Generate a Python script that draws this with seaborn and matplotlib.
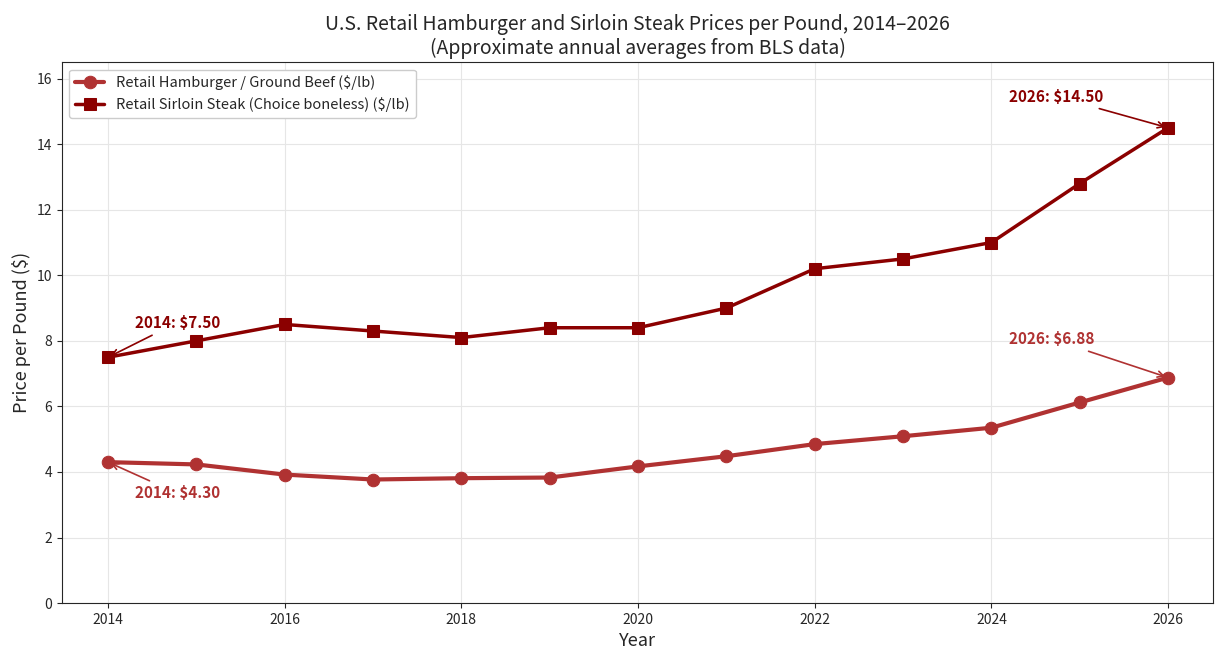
import numpy as np
import pandas as pd
import seaborn as sns
import matplotlib.pyplot as plt

years = list(range(2014, 2027))
hamburger = [4.30, 4.23, 3.92, 3.77, 3.81, 3.83, 4.17, 4.48, 4.85, 5.09, 5.35, 6.12, 6.88]
sirloin = [7.50, 8.00, 8.50, 8.30, 8.10, 8.40, 8.40, 9.00, 10.20, 10.50, 11.00, 12.80, 14.50]

sns.set_style("ticks")
plt.rcParams['font.family'] = ['Noto Sans CJK JP', 'DejaVu Sans']

df = pd.DataFrame({'Year': years, 'Hamburger': hamburger, 'Sirloin': sirloin})

fig, ax = plt.subplots(figsize=(12.18, 6.62), dpi=100)
c_ham = '#b03232'
c_sir = '#8b0000'
sns.lineplot(data=df, x='Year', y='Hamburger', ax=ax, color=c_ham, marker='o', markersize=9,
             linewidth=3, markeredgecolor=c_ham, label='Retail Hamburger / Ground Beef ($/lb)')
sns.lineplot(data=df, x='Year', y='Sirloin', ax=ax, color=c_sir, marker='s', markersize=8,
             linewidth=2.5, markeredgecolor=c_sir, label='Retail Sirloin Steak (Choice boneless) ($/lb)')

ax.set_xlim(2013.48, 2026.51)
ax.set_ylim(0, 16.5)
ax.set_xticks(range(2014, 2027, 2))
ax.set_yticks(range(0, 17, 2))
ax.grid(True, color='#e6e6e6', linewidth=0.8)
ax.set_xlabel('Year', fontsize=13)
ax.set_ylabel('Price per Pound ($)', fontsize=13)
ax.set_title('U.S. Retail Hamburger and Sirloin Steak Prices per Pound, 2014\u20132026\n'
             '(Approximate annual averages from BLS data)', fontsize=14)
ax.tick_params(labelsize=10)
ax.legend(loc='upper left', fontsize=10.5, framealpha=1, edgecolor='#cccccc')

arrow = dict(arrowstyle='->', lw=1.2)
ax.annotate(f'2014: ${sirloin[0]:.2f}', xy=(years[0], sirloin[0]), xytext=(2014.3, 8.4),
            color=c_sir, fontsize=11, fontweight='bold', arrowprops=dict(arrow, color=c_sir))
ax.annotate(f'2014: ${hamburger[0]:.2f}', xy=(years[0], hamburger[0]), xytext=(2014.3, 3.2),
            color=c_ham, fontsize=11, fontweight='bold', arrowprops=dict(arrow, color=c_ham))
ax.annotate(f'2026: ${sirloin[-1]:.2f}', xy=(years[-1], sirloin[-1]), xytext=(2024.2, 15.3),
            color=c_sir, fontsize=11, fontweight='bold', arrowprops=dict(arrow, color=c_sir))
ax.annotate(f'2026: ${hamburger[-1]:.2f}', xy=(years[-1], hamburger[-1]), xytext=(2024.2, 7.9),
            color=c_ham, fontsize=11, fontweight='bold', arrowprops=dict(arrow, color=c_ham))

fig.subplots_adjust(left=0.051, right=0.996, top=0.906, bottom=0.089)
plt.savefig('out.png', dpi=100)
